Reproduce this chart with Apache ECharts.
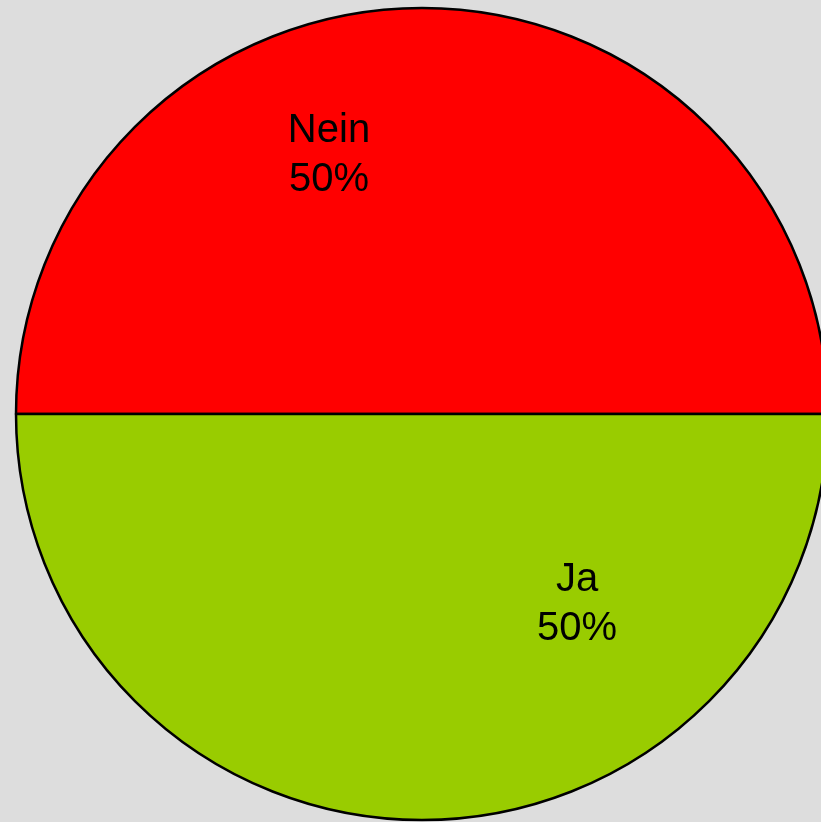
<!DOCTYPE html>
<html>
<head>
<meta charset="utf-8">
<script src="https://cdn.jsdelivr.net/npm/echarts@6/dist/echarts.min.js"></script>
<style>
html,body{margin:0;padding:0;background:#dddddd;}
#chart{width:821px;height:822px;}
</style>
</head>
<body>
<div id="chart"></div>
<script>
var categories = ['Nein', 'Ja'];
var values = [50, 50];
var colors = ['#ff0000', '#99cc00'];
var labelShift = [[-93, -53], [155, -16]];

var chart = echarts.init(document.getElementById('chart'));
chart.setOption({
  backgroundColor: '#dddddd',
  animation: false,
  series: [{
    type: 'pie',
    center: [422, 414],
    radius: 406,
    startAngle: 180,
    clockwise: true,
    data: categories.map(function (c, i) {
      return { name: c, value: values[i], itemStyle: { color: colors[i] } };
    }),
    itemStyle: { borderColor: '#000000', borderWidth: 2.5 },
    label: {
      position: 'inside',
      formatter: '{b}\n{d}%',
      color: '#000000',
      fontFamily: 'Liberation Sans, Arial, sans-serif',
      fontSize: 40,
      lineHeight: 49,
      align: 'center'
    },
    labelLine: { show: false },
    labelLayout: function (p) {
      return { dx: labelShift[p.dataIndex][0], dy: labelShift[p.dataIndex][1] };
    },
    emphasis: { disabled: true }
  }]
});
</script>
</body>
</html>
